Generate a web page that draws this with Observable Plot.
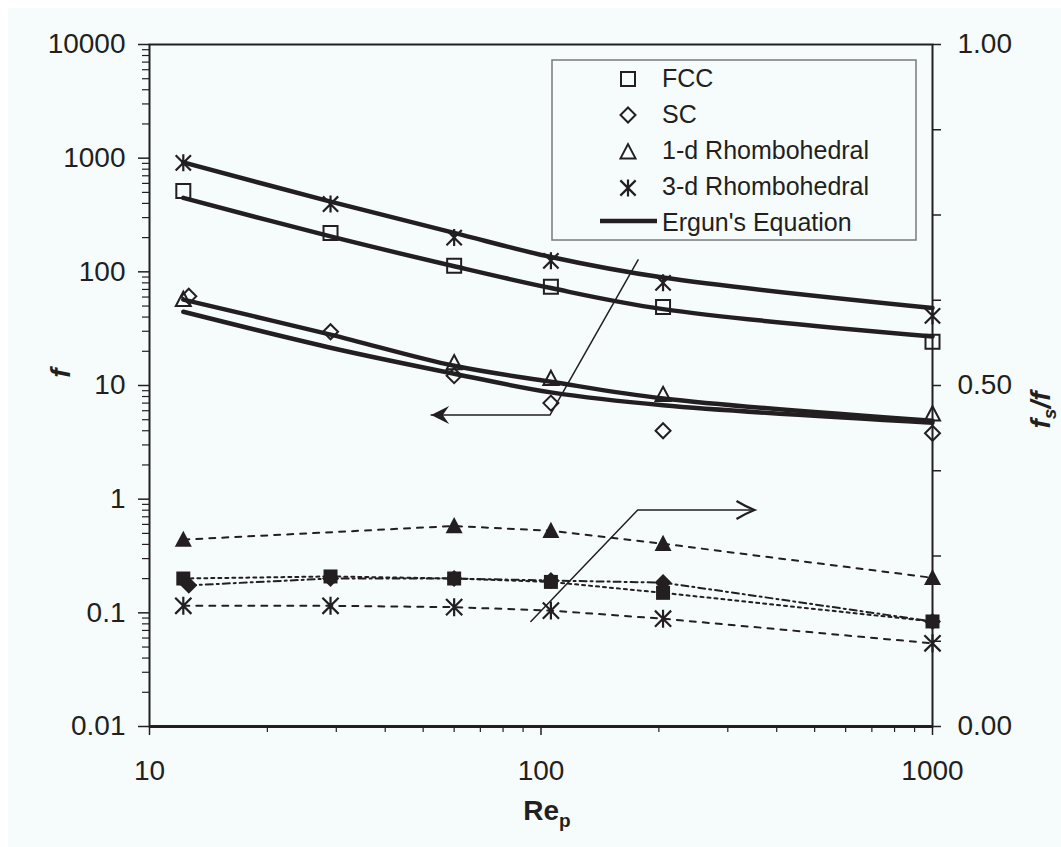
<!DOCTYPE html>
<html><head><meta charset="utf-8">
<script src="https://cdn.jsdelivr.net/npm/d3@7"></script>
<script src="https://cdn.jsdelivr.net/npm/@observablehq/plot@0.6"></script>
<style>
html,body{margin:0;padding:0;background:#fff;}
#chart{position:relative;width:1061px;height:847px;}
</style></head><body><div id="chart"></div>
<script>
// ---------- data ----------
const re   = [12.2, 29, 60, 106, 205, 1000];
const reSC = [12.6, 29, 60, 106, 205, 1000];
const re1d = [12.2, 60, 106, 205, 1000];

// friction factor f (left axis)
const fFCC = [515, 220, 113, 74, 49, 24.3];
const fSC  = [61, 29.7, 12.2, 7.0, 4.0, 3.8];
const f1d  = [57, 15.8, 11.5, 8.3, 5.6];
const f3d  = [910, 395, 200, 125, 80, 41];

// Ergun's equation curves (left axis)
const ergun3d  = [917, 415, 220, 135, 89, 48];
const ergunFCC = [447, 205, 112, 72, 47, 27];
const ergun1d  = [57, 28, 14.9, 10.8, 7.7, 4.9];
const ergunSC  = [44.5, 21.5, 12.7, 8.7, 6.7, 4.7];

// fs/f (right axis)
const rFCC = [0.217, 0.220, 0.217, 0.212, 0.196, 0.154];
const rSC  = [0.207, 0.217, 0.217, 0.214, 0.211, 0.154];
const r1d  = [0.274, 0.294, 0.287, 0.268, 0.218];
const r3d  = [0.177, 0.177, 0.175, 0.170, 0.158, 0.122];

// annotation arrows (data units, left axis)
const arrowRightRe = [94.2, 176.6, 351];
const arrowRightF  = [0.0838, 0.803, 0.803];
const arrowLeftRe  = [177, 105.4, 52.4];
const arrowLeftF   = [127.6, 5.5, 5.5];

// ticks
const yMajor = [0.01, 0.1, 1, 10, 100, 1000, 10000];
const yMinor = d3.range(-2, 4).flatMap(e => [2,3,4,5,6,7,8,9].map(k => k * Math.pow(10, e)));
const rMajor = [0, 0.25, 0.5, 0.75, 1];
const rMinor = [0.125, 0.375, 0.625, 0.875];
const xMajor = [10, 100, 1000];
const xMinor = [1, 2].flatMap(e => [2,3,4,5,6,7,8,9].map(k => k * Math.pow(10, e)));

const legendLabels = ["FCC", "SC", "1-d Rhombohedral", "3-d Rhombohedral", "Ergun's Equation"];

// ---------- helpers ----------
const INK = "#231f20";
const toLeft = v => Math.pow(10, -2 + 6 * v);
const fromLeft = d => (Math.log10(d) + 2) / 6;
const pts = (xs, ys) => xs.map((x, i) => ({x, y: ys[i]}));
const ptsR = (xs, ys) => xs.map((x, i) => ({x, y: toLeft(ys[i])}));

const sym = fn => ({draw(ctx, size) { fn(ctx, Math.sqrt(size / Math.PI)); }});
const squareSym = sym((c, r) => { c.moveTo(-r,-r); c.lineTo(r,-r); c.lineTo(r,r); c.lineTo(-r,r); c.closePath(); });
const diamondSym = sym((c, r) => { c.moveTo(0,-r); c.lineTo(r,0); c.lineTo(0,r); c.lineTo(-r,0); c.closePath(); });
const triangleSym = sym((c, r) => { c.moveTo(0,-r*1.05); c.lineTo(r,r*0.85); c.lineTo(-r,r*0.85); c.closePath(); });
const starSym = sym((c, r) => { const a = r*0.9; c.moveTo(-a,-a); c.lineTo(a,a); c.moveTo(a,-a); c.lineTo(-a,a); c.moveTo(0,-r); c.lineTo(0,r); });
const stealthSym = sym((c, r) => { c.moveTo(0,0); c.lineTo(-2*r,-r); c.lineTo(-1.3*r,0); c.lineTo(-2*r,r); c.closePath(); });
const chevronSym = sym((c, r) => { c.moveTo(-2*r,-r); c.quadraticCurveTo(-0.9*r,-0.35*r,0,0); c.quadraticCurveTo(-0.9*r,0.35*r,-2*r,r); });

const line = (data, opts) => Plot.line(data, {x: "x", y: "y", stroke: INK, ...opts});
const dot = (data, opts) => Plot.dot(data, {x: "x", y: "y", ...opts});

const chart = Plot.plot({
  width: 1061, height: 847,
  marginLeft: 149, marginRight: 129, marginTop: 44, marginBottom: 121,
  style: {background: "transparent", fontFamily: "'Liberation Sans', Arial, sans-serif", color: INK},
  x: {type: "log", domain: [10, 1000], label: null},
  y: {type: "log", domain: [0.01, 10000], label: null},
  marks: [
    // axes
    Plot.axisY({ticks: yMajor, tickSize: 11, tickPadding: 13, fontSize: 28, strokeWidth: 1.5, tickFormat: d => String(d), label: null}),
    Plot.axisY({ticks: yMinor, tickSize: 7, strokeWidth: 1.2, tickFormat: () => "", label: null}),
    Plot.axisY({anchor: "right", ticks: rMajor.map(toLeft), tickSize: 8, tickPadding: 17, fontSize: 28, strokeWidth: 1.5, tickFormat: d => fromLeft(d).toFixed(2), label: null}),
    Plot.axisY({anchor: "right", ticks: rMinor.map(toLeft), tickSize: 8, strokeWidth: 1.5, tickFormat: () => "", label: null}),
    Plot.axisX({ticks: xMajor, tickSize: 9, tickPadding: 25, fontSize: 28, strokeWidth: 1.5, tickFormat: d => String(d), label: null}),
    Plot.axisX({ticks: xMinor, tickSize: 6, strokeWidth: 1.2, tickFormat: () => "", label: null}),
    Plot.frame({stroke: INK, strokeWidth: 2}),
    Plot.ruleY([0.01], {stroke: INK, strokeWidth: 3}),

    // Ergun's equation
    line(pts(re, ergun3d), {strokeWidth: 4.5, curve: "catmull-rom"}),
    line(pts(re, ergunFCC), {strokeWidth: 4.5, curve: "catmull-rom"}),
    line(pts(re, ergun1d), {strokeWidth: 4.5, curve: "catmull-rom"}),
    line(pts(re, ergunSC), {strokeWidth: 4.5, curve: "catmull-rom"}),

    // fs/f dashed lines
    line(ptsR(re1d, r1d), {strokeWidth: 2, strokeDasharray: "6,7"}),
    line(ptsR(re, rFCC), {strokeWidth: 2, strokeDasharray: "3,4"}),
    line(ptsR(reSC, rSC), {strokeWidth: 2, strokeDasharray: "7,4,2,4"}),
    line(ptsR(re, r3d), {strokeWidth: 2, strokeDasharray: "6,7"}),

    // annotation arrows
    line(pts(arrowRightRe, arrowRightF), {strokeWidth: 1.5}),
    line(pts(arrowLeftRe, arrowLeftF), {strokeWidth: 1.5}),
    dot(pts(arrowRightRe.slice(-1), arrowRightF.slice(-1)), {symbol: chevronSym, r: 9, fill: "none", stroke: INK, strokeWidth: 2.2}),
    dot(pts(arrowLeftRe.slice(-1), arrowLeftF.slice(-1)), {symbol: stealthSym, r: 9, fill: INK, stroke: "none", rotate: 180}),

    // f markers (open)
    dot(pts(re, fFCC), {symbol: squareSym, r: 7, fill: "none", stroke: INK, strokeWidth: 2}),
    dot(pts(reSC, fSC), {symbol: diamondSym, r: 7.5, fill: "none", stroke: INK, strokeWidth: 2}),
    dot(pts(re1d, f1d), {symbol: triangleSym, r: 7.5, fill: "none", stroke: INK, strokeWidth: 2}),
    dot(pts(re, f3d), {symbol: starSym, r: 8.5, fill: "none", stroke: INK, strokeWidth: 2.2}),

    // fs/f markers (filled)
    dot(ptsR(re, rFCC), {symbol: squareSym, r: 7, fill: INK, stroke: "none"}),
    dot(ptsR(reSC, rSC), {symbol: diamondSym, r: 8.5, fill: INK, stroke: "none"}),
    dot(ptsR(re1d, r1d), {symbol: triangleSym, r: 8.5, fill: INK, stroke: "none"}),
    dot(ptsR(re, r3d), {symbol: starSym, r: 9, fill: "none", stroke: INK, strokeWidth: 2.2})
  ]
});

const svg = d3.select(chart);
svg.style("background", "#ffffff");
svg.insert("rect", ":first-child")
  .attr("x", 8).attr("y", 8).attr("width", 1053).attr("height", 839)
  .attr("fill", "#f6fcfc");

// axis titles
const ft = "'Liberation Sans', Arial, sans-serif";
svg.append("text")
  .attr("transform", "translate(70,373) rotate(-90)")
  .attr("text-anchor", "middle").attr("font-family", ft)
  .attr("font-size", 28).attr("font-weight", "bold").attr("font-style", "italic")
  .attr("fill", INK).text("f");

const t2 = svg.append("text")
  .attr("transform", "translate(1050,410) rotate(-90)")
  .attr("text-anchor", "middle").attr("font-family", ft)
  .attr("font-size", 28).attr("font-weight", "bold").attr("font-style", "italic")
  .attr("fill", INK);
t2.append("tspan").text("f");
t2.append("tspan").attr("font-size", 19).attr("dy", 6).text("s");
t2.append("tspan").attr("dy", -6).text("/f");

const t3 = svg.append("text")
  .attr("x", 547).attr("y", 820)
  .attr("text-anchor", "middle").attr("font-family", ft)
  .attr("font-size", 28).attr("font-weight", "bold")
  .attr("fill", INK);
t3.append("tspan").text("Re");
t3.append("tspan").attr("font-size", 19).attr("dy", 7).text("p");

// legend
const lg = svg.append("g").attr("text-anchor", "start");
lg.append("rect").attr("x", 552).attr("y", 60).attr("width", 364).attr("height", 180)
  .attr("fill", "none").attr("stroke", "#7a7a7a").attr("stroke-width", 1.5);
const pathOf = (s, r) => { const p = d3.path(); s.draw(p, r * r * Math.PI); return p.toString(); };
const legSyms = [
  {s: squareSym, r: 7, y: 79, fill: "none", sw: 2},
  {s: diamondSym, r: 7.5, y: 115, fill: "none", sw: 2},
  {s: triangleSym, r: 7.5, y: 152, fill: "none", sw: 2},
  {s: starSym, r: 8.5, y: 188, fill: "none", sw: 2.2}
];
legSyms.forEach(d => {
  lg.append("path").attr("d", pathOf(d.s, d.r))
    .attr("transform", `translate(628,${d.y})`)
    .attr("fill", d.fill).attr("stroke", INK).attr("stroke-width", d.sw);
});
lg.append("line").attr("x1", 600).attr("x2", 657).attr("y1", 221).attr("y2", 221)
  .attr("stroke", INK).attr("stroke-width", 4.5);
const baselines = [87, 123, 159, 195, 231];
legendLabels.forEach((t, i) => {
  lg.append("text").attr("x", 662).attr("y", baselines[i])
    .attr("text-anchor", "start")
    .attr("font-family", ft).attr("font-size", 25).attr("fill", INK).text(t);
});

document.getElementById("chart").appendChild(chart);
</script></body></html>
